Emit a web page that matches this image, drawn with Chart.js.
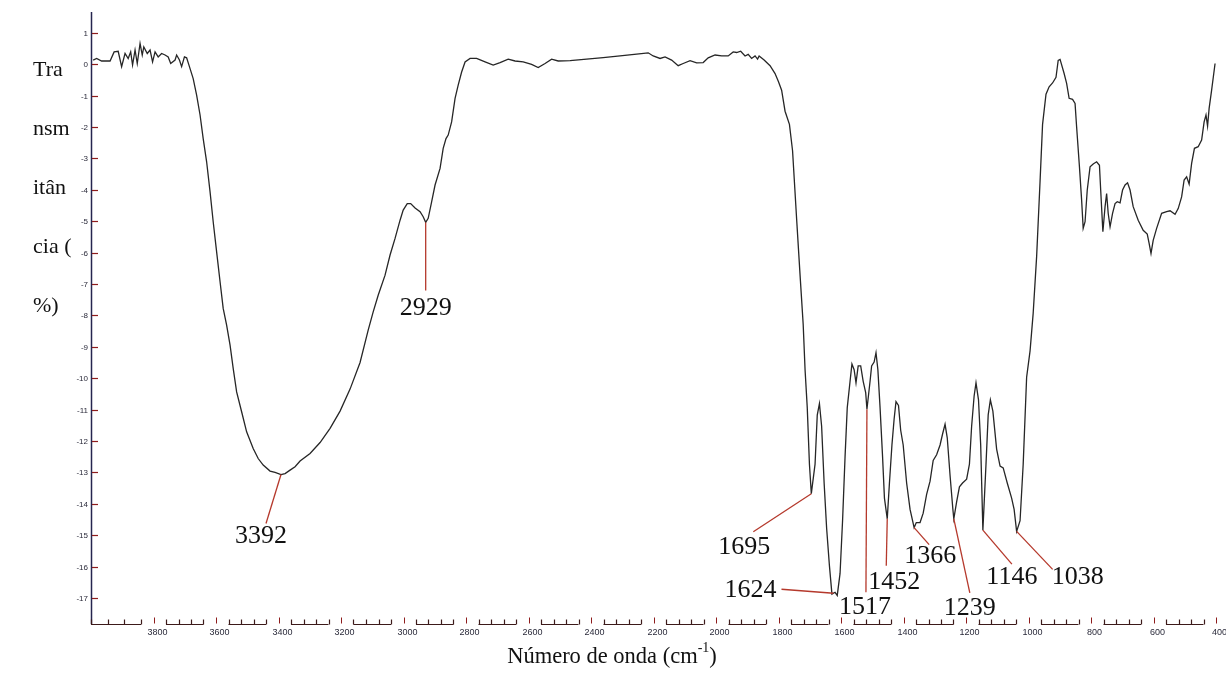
<!DOCTYPE html>
<html>
<head>
<meta charset="utf-8">
<script src="https://cdn.jsdelivr.net/npm/chart.js@4/dist/chart.umd.min.js"></script>
<style>
  html,body{margin:0;padding:0;background:#fff;}
  #wrap{width:1226px;height:688px;}
</style>
</head>
<body>
<div id="wrap"><canvas id="ftir" width="1226" height="688"></canvas></div>
<script>
// FTIR spectrum: wavenumber (cm-1) against transmittance
const wavenumbers = [
  3993,3982,3966,3939,3926,3913,3902,3891,3881,3873,3867,3859,3852,3843,3836,3831,3820,3811,3803,3795,
  3785,3774,3763,3753,3745,3731,3726,3717,3710,3701,3694,3685,3673,3662,3651,3641,3630,3619,3609,3598,
  3587,3577,3566,3555,3545,3534,3518,3502,3481,3465,3449,3427,3411,3392,3379,3363,3347,3331,3299,3267,
  3235,3203,3171,3139,3113,3097,3081,3059,3043,3027,3011,3001,2988,2977,2963,2947,2937,2929,2921,2910,
  2899,2883,2873,2864,2857,2846,2835,2825,2814,2803,2787,2766,2739,2713,2691,2665,2643,2617,2590,2569,
  2547,2526,2505,2467,2414,2361,2307,2254,2217,2201,2179,2163,2142,2121,2105,2083,2062,2041,2025,2003,
  1982,1961,1945,1934,1921,1907,1897,1886,1875,1867,1862,1846,1827,1811,1800,1790,1779,1765,1755,1742,
  1731,1721,1715,1708,1701,1695,1683,1676,1669,1662,1654,1646,1637,1629,1619,1612,1603,1595,1587,1580,
  1571,1565,1558,1552,1545,1537,1529,1521,1517,1507,1502,1494,1488,1482,1475,1467,1461,1452,1445,1437,
  1430,1424,1416,1409,1401,1390,1379,1366,1359,1347,1337,1326,1315,1305,1294,1283,1275,1267,1260,1251,
  1242,1239,1230,1221,1211,1198,1189,1182,1174,1168,1160,1153,1146,1136,1129,1122,1114,1102,1091,1081,
  1068,1054,1046,1038,1027,1017,1006,995,985,974,963,955,944,934,923,912,905,899,886,878,
  870,859,851,846,837,830,825,819,812,803,793,782,773,769,762,755,750,745,739,731,
  723,716,707,699,691,683,675,665,649,633,620,614,608,601,590,574,558,547,531,521,
  510,502,494,486,478,469,457,446,438,432,427,422,414,403
];
const transmittance = [
  0.13,0.18,0.10,0.10,0.39,0.41,-0.08,0.34,0.18,0.39,-0.03,0.45,0.02,0.66,0.29,0.55,0.34,0.45,0.07,0.39,
  0.23,0.34,0.29,0.23,0.02,0.13,0.29,0.13,-0.08,0.23,0.20,-0.08,-0.46,-0.99,-1.62,-2.37,-3.11,-4.07,-5.02,-5.98,
  -6.93,-7.78,-8.31,-8.95,-9.69,-10.44,-11.07,-11.71,-12.24,-12.56,-12.77,-12.96,-13.00,-13.07,-13.04,-12.93,-12.82,-12.64,-12.40,-12.05,
  -11.60,-11.05,-10.35,-9.50,-8.47,-7.89,-7.36,-6.72,-6.08,-5.55,-4.97,-4.65,-4.44,-4.44,-4.58,-4.70,-4.86,-5.04,-4.91,-4.39,
  -3.85,-3.32,-2.68,-2.37,-2.26,-1.84,-1.09,-0.67,-0.25,0.07,0.18,0.18,0.07,-0.03,0.05,0.16,0.10,0.07,-0.01,-0.11,
  0.02,0.16,0.10,0.11,0.16,0.21,0.26,0.32,0.36,0.26,0.18,0.23,0.13,-0.05,0.02,0.11,0.04,0.05,0.20,0.29,
  0.26,0.26,0.39,0.37,0.41,0.26,0.31,0.18,0.26,0.16,0.26,0.13,-0.05,-0.30,-0.56,-0.83,-1.50,-1.92,-2.76,-4.93,
  -6.72,-8.29,-9.73,-10.94,-12.74,-13.68,-12.74,-11.18,-10.81,-11.53,-13.34,-14.78,-15.98,-16.88,-16.82,-16.92,-16.22,-14.54,-12.50,-10.94,
  -10.10,-9.55,-9.73,-10.15,-9.61,-9.61,-10.10,-10.46,-10.99,-10.10,-9.61,-9.49,-9.19,-9.73,-10.94,-12.50,-13.82,-14.48,-13.34,-12.13,
  -11.30,-10.75,-10.87,-11.66,-12.13,-13.34,-14.18,-14.76,-14.60,-14.60,-14.30,-13.70,-13.28,-12.62,-12.44,-12.13,-11.78,-11.47,-11.90,-13.10,
  -14.18,-14.48,-13.94,-13.46,-13.34,-13.22,-12.74,-11.53,-10.57,-10.15,-10.69,-12.13,-14.84,-12.74,-11.17,-10.69,-11.05,-12.26,-12.80,-12.86,
  -13.34,-13.82,-14.18,-14.88,-14.54,-12.74,-9.97,-9.13,-7.93,-6.13,-3.73,-1.92,-0.96,-0.72,-0.60,-0.42,0.12,0.15,-0.30,-0.61,
  -1.09,-1.12,-1.25,-2.00,-3.27,-4.33,-5.23,-5.02,-4.01,-3.27,-3.18,-3.11,-3.22,-4.01,-5.34,-4.54,-4.12,-4.75,-5.18,-4.75,
  -4.44,-4.38,-4.42,-4.01,-3.85,-3.78,-4.01,-4.54,-4.97,-5.29,-5.41,-5.71,-6.03,-5.61,-5.23,-4.75,-4.70,-4.67,-4.78,-4.60,
  -4.23,-3.69,-3.59,-3.82,-3.16,-2.68,-2.63,-2.42,-1.84,-1.62,-1.97,-1.41,-0.83,0.02
];

const yTicks = [1,0,-1,-2,-3,-4,-5,-6,-7,-8,-9,-10,-11,-12,-13,-14,-15,-16,-17];
const xTicks = [3800,3600,3400,3200,3000,2800,2600,2400,2200,2000,1800,1600,1400,1200,1000,800,600,400];
const peaks = [3392,2929,1695,1624,1517,1452,1366,1239,1146,1038];
const yTitleLines = ['Tra','nsm','itân','cia (','%)'];

// where each peak label sits relative to its point: [label dx, dy, leader end dx, dy]
const peakLayout = [
  [-20,62,-15,49],[0,86,0,68],[-67,53,-58,38],[-83,-3,-52,-4],[-2,198,-1,183],
  [7,63,-1,47],[16,29,15,17],[16,89,16,74],[29,47,29,34],[61,46,36,38]
];

function valueAt(w){
  for(let i=0;i<wavenumbers.length-1;i++){
    const a=wavenumbers[i], b=wavenumbers[i+1];
    if(w<=a && w>=b){
      const t=(a-w)/(a-b);
      return transmittance[i]+t*(transmittance[i+1]-transmittance[i]);
    }
  }
  return 0;
}

const serif='"Liberation Serif", "Times New Roman", serif';

const axesPlugin = {
  id:'ftirAxes',
  afterDraw(chart){
    const {ctx, scales:{x:xs, y:ys}, chartArea:ca} = chart;
    ctx.save();

    // y axis
    ctx.strokeStyle='#25254f'; ctx.lineWidth=1.5;
    ctx.beginPath(); ctx.moveTo(ca.left+0.5,ca.top); ctx.lineTo(ca.left+0.5,ca.bottom); ctx.stroke();
    ctx.font='8px "Liberation Sans", Arial, sans-serif';
    ctx.textAlign='right'; ctx.textBaseline='middle';
    yTicks.forEach(v=>{
      const py=Math.round(ys.getPixelForValue(v))+0.5;
      ctx.strokeStyle='#8e1c1c'; ctx.lineWidth=1.2;
      ctx.beginPath(); ctx.moveTo(ca.left+1,py); ctx.lineTo(ca.left+7,py); ctx.stroke();
      ctx.fillStyle='#2a2a3a';
      ctx.fillText(String(v), ca.left-3, py);
    });

    // x axis, broken around each tick label
    const ay=ca.bottom+0.5;
    const bounds=[4000].concat(xTicks);
    ctx.strokeStyle='#3c1a1a'; ctx.lineWidth=1.2;
    for(let i=0;i<bounds.length-1;i++){
      const a=bounds[i]===4000?4000:bounds[i]-40, b=bounds[i+1]+40;
      const xa=xs.getPixelForValue(a), xb=xs.getPixelForValue(b);
      ctx.beginPath(); ctx.moveTo(xa,ay); ctx.lineTo(xb,ay); ctx.stroke();
      for(let k=0;k<4;k++){
        const tx=Math.round(xa+(xb-xa)*k/3)+0.5;
        ctx.beginPath(); ctx.moveTo(tx,ay); ctx.lineTo(tx,ay-5); ctx.stroke();
      }
    }
    ctx.font='9px "Liberation Sans", Arial, sans-serif';
    ctx.textAlign='center'; ctx.textBaseline='middle';
    xTicks.forEach(w=>{
      const px=Math.round(xs.getPixelForValue(w))+0.5;
      ctx.strokeStyle='#8e1c1c'; ctx.lineWidth=1;
      ctx.beginPath(); ctx.moveTo(px,ay-7); ctx.lineTo(px,ay-1); ctx.stroke();
      ctx.fillStyle='#2a2a3a';
      ctx.fillText(String(w), px+3, ay+8);
    });

    // peak labels with leader lines
    ctx.font='26px '+serif;
    peaks.forEach((w,i)=>{
      const px=xs.getPixelForValue(w), py=ys.getPixelForValue(valueAt(w));
      const [lx,ly,ex,ey]=peakLayout[i];
      ctx.strokeStyle='#b5392c'; ctx.lineWidth=1.3;
      ctx.beginPath(); ctx.moveTo(px,py); ctx.lineTo(px+ex,py+ey); ctx.stroke();
      ctx.fillStyle='#111';
      ctx.fillText(String(w), px+lx, py+ly);
    });

    // axis titles
    ctx.fillStyle='#111';
    ctx.font='22px '+serif;
    ctx.textAlign='left'; ctx.textBaseline='middle';
    yTitleLines.forEach((s,i)=>ctx.fillText(s, 33, 70+i*59));

    ctx.textBaseline='alphabetic';
    const main='Número de onda (cm', sup='-1', tail=')';
    ctx.font='22.5px '+serif;
    const wMain=ctx.measureText(main).width, wTail=ctx.measureText(tail).width;
    ctx.font='14px '+serif;
    const wSup=ctx.measureText(sup).width;
    let tx=612-(wMain+wSup+wTail)/2;
    ctx.font='22.5px '+serif;
    ctx.fillText(main, tx, 663); tx+=wMain;
    ctx.font='14px '+serif;
    ctx.fillText(sup, tx, 652); tx+=wSup;
    ctx.font='22.5px '+serif;
    ctx.fillText(tail, tx, 663);

    ctx.restore();
  }
};

new Chart(document.getElementById('ftir').getContext('2d'), {
  type:'line',
  data:{
    datasets:[{
      data:wavenumbers.map((w,i)=>({x:w,y:transmittance[i]})),
      borderColor:'#262626', borderWidth:1.3, pointRadius:0, tension:0, fill:false
    }]
  },
  options:{
    responsive:false, animation:false, devicePixelRatio:1,
    layout:{padding:{left:91,top:12,right:10,bottom:64}},
    plugins:{legend:{display:false}, tooltip:{enabled:false}},
    scales:{
      x:{type:'linear', reverse:true, min:400, max:4000, display:false},
      y:{min:-17.83, max:1.66, display:false}
    }
  },
  plugins:[axesPlugin]
});
</script>
</body>
</html>
